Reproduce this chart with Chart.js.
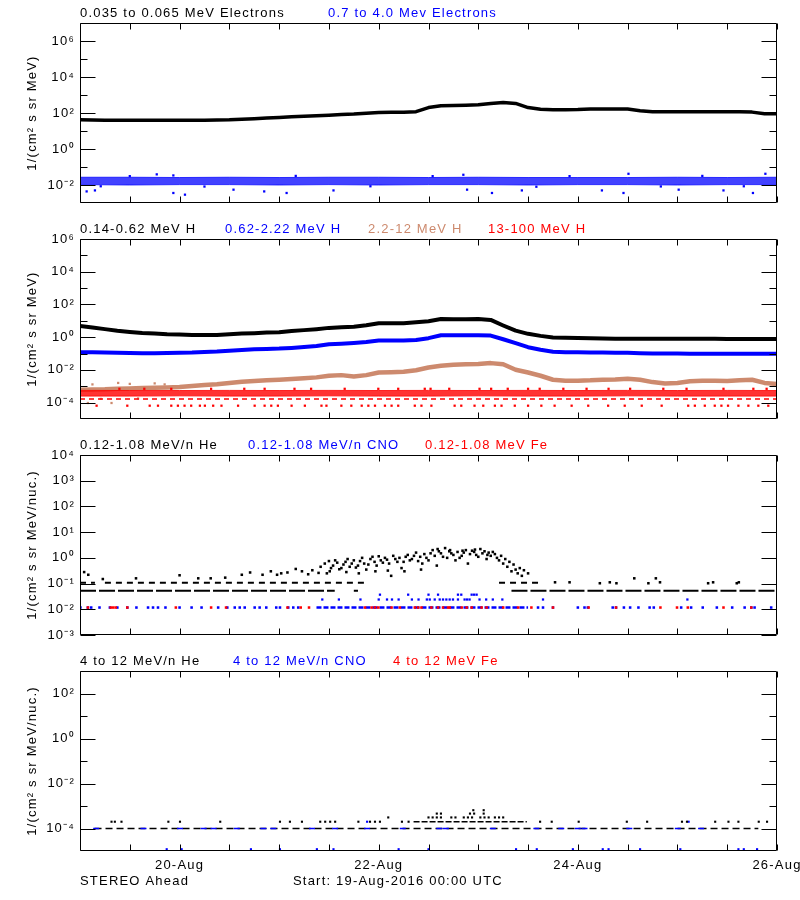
<!DOCTYPE html>
<html><head><meta charset="utf-8">
<script src="https://cdn.jsdelivr.net/npm/chart.js@4.4.1/dist/chart.umd.min.js"></script>
<style>
html,body{margin:0;padding:0;background:#fff;overflow:hidden;width:800px;height:900px;}
canvas{position:absolute;left:0;}
</style></head><body>
<canvas id="c1" width="830" height="216" style="top:0px"></canvas>
<canvas id="c2" width="830" height="216" style="top:216px"></canvas>
<canvas id="c3" width="830" height="216" style="top:432px"></canvas>
<canvas id="c4" width="830" height="252" style="top:648px"></canvas>
<script>
// ---------- time axis (hours since 19-Aug-2016 00:00 UTC) ----------
const X_TICK_HOURS = [0,12,24,36,48,60,72,84,96,108,120,132,144,156,168];
const X_LABEL_HOURS = [24,72,120,168];
const X_LABELS = ['20-Aug','22-Aug','24-Aug','26-Aug'];
const HOURS3 = [0,3,6,9,12,15,18,21,24,27,30,33,36,39,42,45,48,51,54,57,60,63,66,69,72,75,78,81,84,87,90,93,96,99,102,105,108,111,114,117,120,123,126,129,132,135,138,141,144,147,150,153,156,159,162,165,168];
const HOURS12 = [0,12,24,36,48,60,72,84,96,108,120,132,144,156,168];

// ---------- panel 1: electrons ----------
const ELEC_LOW = [42,41,40,39,39,39,39,39,39,40,40,41,42,45,48,52,57,62,66,71,76,82,88,98,105,111,111,118,200,250,262,272,290,340,380,340,200,160,152,152,155,165,167,167,165,135,118,118,118,118,118,118,118,118,112,92,91];
const ELEC_HIGH_UPPER = [0.027,0.027,0.026,0.027,0.026,0.027,0.027,0.026,0.027,0.026,0.026,0.026,0.027,0.026,0.027];
const ELEC_HIGH_LOWER = [0.0105,0.010,0.0105,0.0105,0.010,0.0105,0.010,0.0105,0.0105,0.010,0.0105,0.0105,0.010,0.0105,0.0105];
const ELEC_HIGH_SCATTER = [[1.6,0.0044],[3.6,0.005],[5,0.0085],[12,0.031],[18.5,0.039],[22.5,0.0036],[22.5,0.034],[25.3,0.0029],[30,0.0082],[37,0.0055],[44.4,0.0044],[49.8,0.0036],[52,0.032],[61.1,0.005],[70,0.0085],[85,0.031],[92.4,0.037],[93.3,0.0055],[99.3,0.0036],[106.5,0.005],[110,0.008],[118,0.031],[125.8,0.005],[131,0.0036],[132.2,0.042],[140,0.0083],[144.3,0.0055],[150,0.032],[155.1,0.005],[160,0.0085],[162.2,0.0036],[165.2,0.042]];

// ---------- panel 2: protons ----------
const H_LOW = [4.9,3.9,3.1,2.5,2.1,1.8,1.66,1.5,1.44,1.38,1.38,1.38,1.5,1.66,1.75,1.9,2.0,2.4,2.7,3.1,3.7,4.1,4.4,5.4,7.1,7.1,7.1,8.2,9.5,12.9,12.5,12.5,12.9,11.3,5.2,2.5,1.6,1.2,0.97,0.93,0.9,0.85,0.82,0.8,0.8,0.8,0.8,0.8,0.8,0.8,0.8,0.8,0.78,0.78,0.78,0.78,0.78];
const H_MID = [0.12,0.12,0.115,0.112,0.108,0.105,0.105,0.108,0.11,0.115,0.125,0.132,0.15,0.165,0.18,0.19,0.2,0.22,0.25,0.29,0.37,0.4,0.44,0.5,0.62,0.62,0.62,0.68,0.87,1.32,1.3,1.3,1.32,1.25,0.75,0.43,0.245,0.17,0.13,0.12,0.12,0.115,0.115,0.11,0.11,0.105,0.1,0.1,0.1,0.098,0.098,0.098,0.098,0.098,0.098,0.098,0.098];
const H_HIGH = [6.1e-4,6.3e-4,6.5e-4,7e-4,7.3e-4,7.8e-4,8e-4,8.5e-4,9e-4,1.05e-3,1.2e-3,1.35e-3,1.6e-3,1.9e-3,2.1e-3,2.3e-3,2.5e-3,2.8e-3,3.1e-3,3.5e-3,4.4e-3,4.8e-3,4.0e-3,4.8e-3,6.9e-3,7.3e-3,7.8e-3,9.5e-3,1.4e-2,1.78e-2,2.05e-2,2.2e-2,2.3e-2,2.6e-2,2.2e-2,1.02e-2,6.9e-3,4.4e-3,2.5e-3,2.2e-3,2.2e-3,2.3e-3,2.5e-3,2.6e-3,2.9e-3,2.5e-3,1.8e-3,1.5e-3,1.6e-3,2e-3,2.2e-3,2.2e-3,2.1e-3,2.3e-3,2.5e-3,1.6e-3,1.4e-3];
const H_HIGH_SCATTER = [[1.9,9.5e-5],[7.6,9.5e-5],[3,1.3e-3],[9.2,1.6e-3],[12,1.4e-3],[18,1.5e-3],[20.4,1.3e-3],[22.8,1.0e-3],[5,1.7e-4],[14,1.8e-4]];
const H_TOP_UPPER = [5.6e-4,5.5e-4,5.5e-4,5.6e-4,5.5e-4,5.6e-4,5.5e-4,5.6e-4,5.5e-4,5.6e-4,5.5e-4,5.6e-4,5.5e-4,5.6e-4,5.5e-4];
const H_TOP_LOWER = [2.5e-4,2.5e-4,2.6e-4,2.5e-4,2.5e-4,2.6e-4,2.5e-4,2.5e-4,2.6e-4,2.5e-4,2.5e-4,2.6e-4,2.5e-4,2.5e-4,2.5e-4];
const H_TOP_FRINGE_LEVEL = 7e-4;
const H_TOP_FRINGE_HOURS = [9.5,15.5,22,31.6,39.6,44.5,51.7,55.7,63.8,71.9,76.7,83.1,84.5,89,96.3,99.1,103.1,108,110.8,116.5,122.1,127.4,132.6,140.6,146.2,155.1,162.3,165.5];
const H_TOP_DASH_LEVEL = 1.65e-4;
const H_TOP_DASH_SEGMENTS = [[0,168]];
const H_TOP_SPARSE_LEVEL = 6.5e-5;
const H_TOP_SPARSE_HOURS = [4,11.4,16.8,18.8,22,23.6,25.2,26.8,28.9,30.1,32.1,34.1,38.1,42.1,44.5,46.1,47.7,51,54.2,58.2,59.4,63,65.4,67.9,69.5,71.1,73.5,75.1,76.7,80.7,82.3,84.7,90.3,91.9,95.1,97.2,100,101.6,104.8,108,111.2,114.4,118.5,122.5,127.3,131.3,135.4,140.2,146.6,148.2,150.6,153,154.6,156.2,158.7,161.1,163.5,165.9];

// ---------- panel 3: low-energy heavy ions ----------
const HE_CLOUD = [[1,0.28],[2,0.22],[5.5,0.15],[13.5,0.16],[24,0.21],[28.5,0.16],[31.5,0.16],[35,0.17],[39,0.22],[41,0.27],[44,0.22],[46,0.3],[47.5,0.22],[48.5,0.25],[50,0.27],[52,0.37],[53.5,0.3],[55,0.23],[56,0.33],[57.5,0.26],
[58,0.45],[59,0.6],[59.5,0.25],[60,0.75],[60.2,0.3],[60.5,0.4],[61,0.5],[61.5,0.8],[62,0.65],[62.5,0.36],[63,0.4],[63.5,0.55],[64,0.7],[64.2,0.28],[64.5,0.9],[65,0.45],[65.5,0.6],[66,0.8],[66.5,0.42],[67,0.5],[67.2,0.25],[67.5,0.75],[68,1.0],[68.5,0.6],[69,0.35],[69.5,0.55],[70,0.9],[70.5,1.1],[71,0.7],[71.2,0.3],[71.5,0.5],[72,1.15],[72.5,0.8],[73,0.65],[73.5,1.0],[74,0.85],[74.2,0.32],[74.5,0.6],[75,0.2],[75.5,1.2],[76,0.9],[76.5,0.7],[77,1.0],[77.5,0.4],[78,0.7],[78.2,0.3],[78.5,1.1],[79,1.3],[79.5,0.8],[80,0.9],[80.5,1.2],[81,1.6],[81.5,0.75],[82,1.1],[82.2,0.35],[82.5,0.6],[83,1.4],[83.5,1.0],[84,0.8],[84.5,1.5],
[85,2.0],[85.5,1.2],[86,0.5],[86.2,2.2],[86.5,1.8],[87,1.5],[87.5,1.1],[88,2.4],[88.5,1.0],[89,1.8],[89.2,2.0],[89.5,1.5],[90,1.3],[90.5,0.8],[91,1.7],[91.5,1.0],[92,1.2],[92.2,1.9],[92.5,1.6],[93,2.0],[93.5,0.6],[94,1.4],[94.5,1.9],[95,1.7],[95.2,2.1],[95.5,1.3],[96,1.1],[96.5,2.2],[97,1.5],[97.5,1.8],[98,0.9],[98.2,1.3],[98.5,1.6],[99,1.2],[99.5,1.7],[100,1.4],[100.5,1.0],
[101,0.8],[101.5,1.2],[102,0.6],[102.5,0.9],[103,0.45],[103.5,0.7],[104,0.3],[104.5,0.55],[105,0.35],[105.5,0.25],[106,0.4],[106.5,0.2],[107,0.33],[108,0.25],
[114.5,0.112],[118,0.112],[125.3,0.103],[127.7,0.112],[129.3,0.103],[133.6,0.16],[137,0.103],[138.8,0.16],[139.8,0.112],[151.4,0.103],[152.6,0.112],[158.3,0.103],[158.8,0.112]];
const HE_ROW_A_LEVEL = 0.053;
const HE_ROW_A_SEGMENTS = [[0,61.4],[66,67],[104,168]];
const HE_ROW_B_LEVEL = 0.107;
const HE_ROW_B_SEGMENTS = [[0,3.6],[6,69],[101,110.5]];
const CNO_ROW_LEVEL = 0.0117;
const CNO_ROW_DENSE = [[57,108]];
const CNO_ROW_HOURS = [0.1,1.9,2.7,4.7,7.2,9,11.4,13.6,16.4,17.6,18.8,20.6,24,26.9,29.3,33.3,35.5,37.3,38.5,39.7,42.1,43.3,44.9,47.3,48.2,50.2,51.4,52.6,110.4,111.6,114,120,121.6,122.4,128.4,129.2,131.1,132.6,134.6,137.3,138.3,144.9,147.3,150.1,153.5,157.2,160.2,161.8,162.6,166.6];
const FE_ROW_HOURS = [1.9,7.4,8,8.6,11.4,23.1,31.6,35.2,50,53.2,55.2,68.7,70.3,71.1,71.9,75.1,77.1,80.7,81.5,82.3,84.7,86.3,87.5,88.7,89.1,92,93.2,94.4,96.8,98,102,105.6,108.8,114,122.6,129.2,139.9,143.9,146.5,155.1,161.8];
const CNO_ROW2_LEVEL = 0.024;
const CNO_ROW2_HOURS = [58.4,62.4,67.6,72,74,75.2,76.8,80,81.6,83.6,84.3,85.5,86.7,87.5,88.3,89.1,89.9,91.1,92.7,93.3,93.9,96.3,97.9,99.5,101.8,111.6,146.4];
const CNO_ROW3_LEVEL = 0.037;
const CNO_ROW3_HOURS = [72.3,79.1,84,86.3,91.1,91.9,94.4,95,95.6];

// ---------- panel 4: high-energy heavy ions ----------
const HE4_ROW_LEVEL = 1e-4;
const HE4_ROW_SEGMENTS = [[3.5,163.5]];
const CNO4_DASH_HOURS = [3.9,15.3,24.1,29.8,32.2,37.8,44.2,46.6,55.9,61.5,69.2,77.8,86.6,88.2,99.5,110,116,120,121.6,132.4,144.1,149.7];
const HE4_L2_LEVEL = 2e-4;
const HE4_L2_HOURS = [7.6,8.4,10,21.3,24.1,33.8,48.2,50.6,53.5,57.9,59.1,60.3,61.5,67.1,69.9,71.1,72.3,77.6,79.2,110.9,113.7,120.2,131.8,136.7,145.1,146.3,153.1,156.3,158.7,163.6,165.6];
const HE4_L2_DENSE = [[80.4,107.7]];
const HE4_L3_LEVEL = 3.1e-4;
const HE4_L3_HOURS = [74.3,84,85,86,87,89.5,90.5,92.5,93.5,94.5,96.5,97.5,98.5,100,101,102];
const HE4_L4_LEVEL = 4.6e-4;
const HE4_L4_HOURS = [86,87,94,95,97.3];
const HE4_L5_LEVEL = 6.5e-4;
const HE4_L5_HOURS = [94.8,97.3];
const CNO4_LOW_LEVEL = 1.2e-5;
const CNO4_LOW_HOURS = [20.9,24.5,41.2,48.2,57.1,61.1,76.8,84,105.1,110.1,118.8,126,127.4,135,144.7,158.7,160,163.2];
const CNO4_L2_HOURS = [69.2,146.7];

// ---------- y ticks (powers of ten) ----------
const P1_Y_LABELED = [-2,0,2,4,6], P1_Y_MINOR = [-1,1,3,5], P1_Y_RANGE = [-3,7];
const P2_Y_LABELED = [-4,-2,0,2,4,6], P2_Y_MINOR = [-3,-1,1,3,5], P2_Y_RANGE = [-5,6];
const P3_Y_LABELED = [-3,-2,-1,0,1,2,3,4], P3_Y_MINOR = [], P3_Y_RANGE = [-3,4];
const P4_Y_LABELED = [-4,-2,0,2], P4_Y_MINOR = [-3,-1,1], P4_Y_RANGE = [-5,3];

// ---------- helpers ----------
const FONT = '"Liberation Sans", Arial, Helvetica, sans-serif';
const BLACK = '#000000', BLUE = '#0000ff', RED = '#ff0000', BROWN = '#cd8a6e';
Chart.defaults.font.family = FONT;
Chart.defaults.font.size = 13;
Chart.defaults.color = '#000';

const SUP = {'-':'\u207B','0':'\u2070','1':'\u00B9','2':'\u00B2','3':'\u00B3','4':'\u2074','5':'\u2075','6':'\u2076','7':'\u2077','8':'\u2078','9':'\u2079'};
const sup = e => '10' + String(e).split('').map(c => SUP[c]).join('');
const pairs = (xs, ys) => xs.map((x, i) => ({x, y: ys[i]}));
const pts = list => list.map(([x, y]) => ({x, y}));
const row = (hours, level) => hours.map(h => ({x: h, y: level}));
const segs = (list, level) => list.flatMap(([a, b]) => [{x: a, y: level}, {x: b, y: level}, {x: b, y: null}]);

function lineDS(data, color, width, extra) {
  return Object.assign({type: 'line', data, borderColor: color, backgroundColor: color, borderWidth: width,
    pointRadius: 0, fill: false, tension: 0, spanGaps: false, borderJoinStyle: 'round'}, extra || {});
}
function dotDS(data, color, r) {
  return {type: 'scatter', data, backgroundColor: color, borderColor: color, pointBorderWidth: 0,
    pointStyle: 'rect', pointRadius: r, showLine: false};
}
function dashDS(data, color, r, w) {
  return {type: 'scatter', data, backgroundColor: color, borderColor: color, pointBorderWidth: w,
    pointStyle: 'line', pointRadius: r, showLine: false};
}

function framePlugin(cfg) {
  return {
    id: 'idlFrame',
    beforeDraw(chart) { chart.ctx.letterSpacing = '1.2px'; },
    afterDatasetsDraw(chart) {
      const {ctx, chartArea: a, scales} = chart;
      const ys = scales.y, xs = scales.x;
      const L = Math.round(a.left) + 0.5, R = Math.round(a.right) - 0.5;
      const T = Math.round(a.top) + 0.5, B = Math.round(a.bottom) - 0.5;
      ctx.save();
      ctx.strokeStyle = '#000'; ctx.lineWidth = 1;
      ctx.beginPath();
      ctx.rect(L, T, R - L, B - T);
      const groups = [[cfg.yLabeled, 15], [cfg.yMinor, 7]];
      for (const [exps, len] of groups) for (const e of exps) {
        const y = Math.round(ys.getPixelForValue(Math.pow(10, e))) + 0.5;
        ctx.moveTo(L, y); ctx.lineTo(L + len, y);
        ctx.moveTo(R, y); ctx.lineTo(R - len, y);
      }
      for (const h of X_TICK_HOURS) {
        const x = Math.round(xs.getPixelForValue(h)) + 0.5;
        ctx.moveTo(x, T); ctx.lineTo(x, T + 6);
        ctx.moveTo(x, B); ctx.lineTo(x, B - 6);
      }
      ctx.stroke();
      ctx.font = '13px ' + FONT;
      ctx.textBaseline = 'middle'; ctx.textAlign = 'left';
      for (const t of cfg.titles) { ctx.fillStyle = t[1]; ctx.fillText(t[0], t[2], a.top - 10); }
      for (const t of (cfg.footer || [])) { ctx.fillStyle = '#000'; ctx.fillText(t[0], t[1], a.bottom + t[2]); }
      ctx.restore();
    }
  };
}

function makeChart(id, cfg) {
  const yTicks = cfg.yLabeled.concat(cfg.yMinor);
  return new Chart(document.getElementById(id), {
    type: 'scatter',
    data: {datasets: cfg.datasets},
    plugins: [framePlugin(cfg)],
    options: {
      responsive: false, animation: false, events: [],
      layout: {padding: {top: 23, right: 53, bottom: 0, left: 0}},
      plugins: {legend: {display: false}, tooltip: {enabled: false}},
      scales: {
        x: {type: 'linear', min: 0, max: 168, grid: {display: false, drawTicks: false}, border: {display: false},
          afterBuildTicks: s => { s.ticks = X_TICK_HOURS.map(v => ({value: v})); },
          afterFit: s => { s.height = cfg.xHeight; },
          ticks: {display: !!cfg.xLabels, autoSkip: false, maxRotation: 0, minRotation: 0, padding: 7, color: '#000',
            font: {size: 13}, callback: v => { const i = X_LABEL_HOURS.indexOf(v); return i >= 0 ? X_LABELS[i] : ''; }}},
        y: {type: 'logarithmic', min: Math.pow(10, cfg.yRange[0]), max: Math.pow(10, cfg.yRange[1]),
          grid: {display: false, drawTicks: false}, border: {display: false},
          afterBuildTicks: s => { s.ticks = yTicks.map(e => ({value: Math.pow(10, e)})); },
          afterFit: s => { s.width = 80; },
          title: {display: true, text: cfg.yTitle, color: '#000', font: {size: 13}, padding: {top: 25, bottom: 0}},
          ticks: {autoSkip: false, padding: 5, color: '#000', font: {size: 13},
            callback: v => { const e = Math.round(Math.log10(v)); return cfg.yLabeled.includes(e) ? sup(e) : ''; }}}
      }
    }
  });
}

const Y_TITLE_A = '1/(cm\u00B2 s sr MeV)';
const Y_TITLE_B = '1/(cm\u00B2 s sr MeV/nuc.)';

// Panel 1
makeChart('c1', {
  yLabeled: P1_Y_LABELED, yMinor: P1_Y_MINOR, yRange: P1_Y_RANGE, yTitle: Y_TITLE_A, xHeight: 13,
  titles: [['0.035 to 0.065 MeV Electrons', BLACK, 80], ['0.7 to 4.0 Mev Electrons', BLUE, 328]],
  datasets: [
    lineDS(pairs(HOURS3, ELEC_LOW), BLACK, 3.5),
    dotDS(pts(ELEC_HIGH_SCATTER), BLUE, 1.6),
    lineDS(pairs(HOURS12, ELEC_HIGH_UPPER), 'rgba(0,0,255,0.75)', 1, {fill: '+1', backgroundColor: 'rgba(0,0,255,0.74)'}),
    lineDS(pairs(HOURS12, ELEC_HIGH_LOWER), 'rgba(0,0,255,0.75)', 1)
  ]
});

// Panel 2
makeChart('c2', {
  yLabeled: P2_Y_LABELED, yMinor: P2_Y_MINOR, yRange: P2_Y_RANGE, yTitle: Y_TITLE_A, xHeight: 13,
  titles: [['0.14-0.62 MeV H', BLACK, 80], ['0.62-2.22 MeV H', BLUE, 225], ['2.2-12 MeV H', BROWN, 368], ['13-100 MeV H', RED, 488]],
  datasets: [
    lineDS(pairs(HOURS3, H_LOW), BLACK, 4),
    lineDS(pairs(HOURS3, H_MID), BLUE, 4),
    dotDS(row(H_TOP_FRINGE_HOURS, H_TOP_FRINGE_LEVEL), RED, 1.6),
    dotDS(row(H_TOP_SPARSE_HOURS, H_TOP_SPARSE_LEVEL), RED, 1.6),
    lineDS(segs(H_TOP_DASH_SEGMENTS, H_TOP_DASH_LEVEL), RED, 1.5, {borderDash: [5, 4]}),
    lineDS(pairs(HOURS12, H_TOP_UPPER), 'rgba(255,0,0,0.8)', 1, {fill: '+1', backgroundColor: 'rgba(255,0,0,0.8)'}),
    lineDS(pairs(HOURS12, H_TOP_LOWER), 'rgba(255,0,0,0.8)', 1),
    dotDS(pts(H_HIGH_SCATTER), BROWN, 1.6),
    lineDS(pairs(HOURS3, H_HIGH), BROWN, 4.5)
  ]
});

// Panel 3
makeChart('c3', {
  yLabeled: P3_Y_LABELED, yMinor: P3_Y_MINOR, yRange: P3_Y_RANGE, yTitle: Y_TITLE_B, xHeight: 13,
  titles: [['0.12-1.08 MeV/n He', BLACK, 80], ['0.12-1.08 MeV/n CNO', BLUE, 248], ['0.12-1.08 MeV Fe', RED, 425]],
  datasets: [
    dotDS(pts(HE_CLOUD), BLACK, 1.8),
    lineDS(segs(HE_ROW_B_SEGMENTS, HE_ROW_B_LEVEL), BLACK, 2, {borderDash: [6, 5]}),
    lineDS(segs(HE_ROW_A_SEGMENTS, HE_ROW_A_LEVEL), BLACK, 2, {borderDash: [16, 3]}),
    dotDS(row(FE_ROW_HOURS, CNO_ROW_LEVEL), RED, 1.8),
    dotDS(row(CNO_ROW3_HOURS, CNO_ROW3_LEVEL), BLUE, 1.6),
    dotDS(row(CNO_ROW2_HOURS, CNO_ROW2_LEVEL), BLUE, 1.6),
    dotDS(row(CNO_ROW_HOURS, CNO_ROW_LEVEL), BLUE, 1.8),
    lineDS(segs(CNO_ROW_DENSE, CNO_ROW_LEVEL), BLUE, 2.5, {borderDash: [5, 2]})
  ]
});

// Panel 4
makeChart('c4', {
  yLabeled: P4_Y_LABELED, yMinor: P4_Y_MINOR, yRange: P4_Y_RANGE, yTitle: Y_TITLE_B, xHeight: 49, xLabels: true,
  titles: [['4 to 12 MeV/n He', BLACK, 80], ['4 to 12 MeV/n CNO', BLUE, 233], ['4 to 12 MeV Fe', RED, 393]],
  footer: [['STEREO Ahead', 80, 30], ['Start: 19-Aug-2016 00:00 UTC', 293, 30]],
  datasets: [
    dotDS(row(HE4_L5_HOURS, HE4_L5_LEVEL), BLACK, 1.5),
    dotDS(row(HE4_L4_HOURS, HE4_L4_LEVEL), BLACK, 1.5),
    dotDS(row(HE4_L3_HOURS, HE4_L3_LEVEL), BLACK, 1.5),
    dotDS(row(HE4_L2_HOURS, HE4_L2_LEVEL), BLACK, 1.5),
    lineDS(segs(HE4_L2_DENSE, HE4_L2_LEVEL), BLACK, 1.5, {borderDash: [6, 2]}),
    dashDS(row(CNO4_DASH_HOURS, HE4_ROW_LEVEL), BLUE, 3, 1.5),
    dotDS(row(CNO4_L2_HOURS, HE4_L2_LEVEL), BLUE, 1.5),
    dotDS(row(CNO4_LOW_HOURS, CNO4_LOW_LEVEL), BLUE, 1.5),
    lineDS(segs(HE4_ROW_SEGMENTS, HE4_ROW_LEVEL), BLACK, 1.5, {borderDash: [7, 4]})
  ]
});
</script></body></html>
